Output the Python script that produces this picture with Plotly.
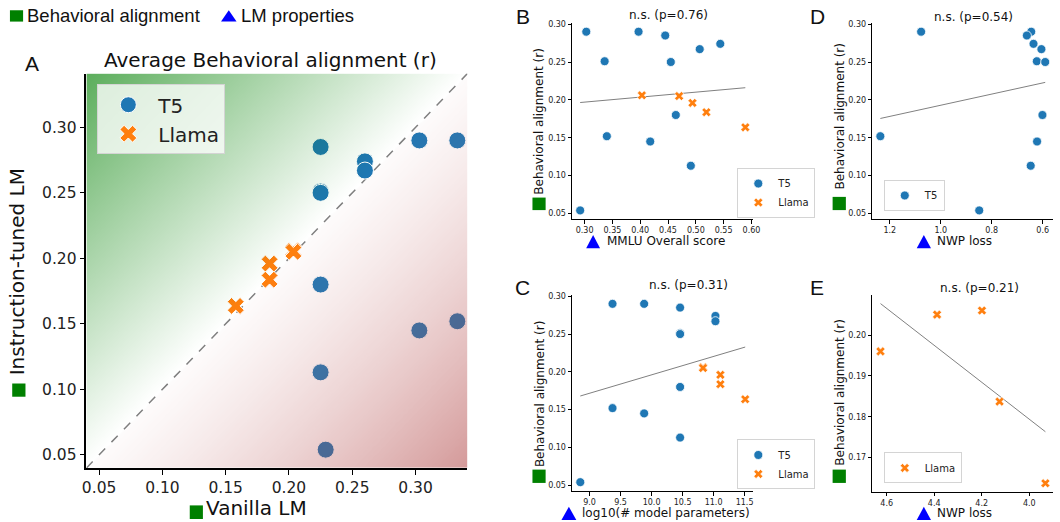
import numpy as np
import plotly.graph_objects as go

W, H = 1060, 522

# ---------------- data ----------------
# T5 models (12): instruction-tuned alignment, vanilla alignment, LM properties
t5_instruct = [0.054, 0.290, 0.290, 0.285, 0.274, 0.267, 0.251, 0.250, 0.180, 0.152, 0.145, 0.113]
t5_vanilla = [0.229, 0.303, 0.333, 0.225, 0.260, 0.260, 0.225, 0.225, 0.225, 0.333, 0.303, 0.225]
t5_mmlu = [0.292, 0.303, 0.397, 0.445, 0.544, 0.507, 0.336, 0.455, 0.464, 0.340, 0.418, 0.491]
t5_logparams = [8.85, 9.88, 9.37, 10.46, 11.03, 11.03, 10.46, 10.46, 10.46, 9.37, 9.88, 10.46]
t5_nwp = [0.849, 1.077, 0.645, 0.662, 0.636, 0.605, 0.623, 0.590, 0.601, 1.237, 0.622, 0.647]

# Llama models (5)
llama_instruct = [0.206, 0.205, 0.196, 0.1837, 0.1637]
llama_vanilla = [0.2035, 0.2035, 0.1847, 0.1847, 0.158]
llama_mmlu = [0.403, 0.470, 0.494, 0.519, 0.589]
llama_logparams = [10.83, 10.83, 11.11, 11.11, 11.51]
llama_nwp = [4.199, 4.388, 4.626, 4.125, 3.932]

p_values = {"B": 0.76, "C": 0.31, "D": 0.54, "E": 0.21}

a_ticks = [0.05, 0.10, 0.15, 0.20, 0.25, 0.30]
small_y_ticks = [0.05, 0.10, 0.15, 0.20, 0.25, 0.30]
mmlu_ticks = [0.30, 0.35, 0.40, 0.45, 0.50, 0.55, 0.60]
param_ticks = [9.0, 9.5, 10.0, 10.5, 11.0, 11.5]
t5_nwp_ticks = [1.2, 1.0, 0.8, 0.6]
llama_nwp_ticks = [4.6, 4.4, 4.2, 4.0]
e_y_ticks = [0.17, 0.18, 0.19, 0.20]

# ---------------- helpers ----------------
def px(x):
    return x / W


def py(y):
    return 1 - y / H


BLUE = "#1f77b4"
ORANGE = "#ff7f0e"
DV = "DejaVu Sans"
AR = "Liberation Sans"

A_RANGE = [0.0400, 0.3410]

fig = go.Figure()

# ---- Panel A ----
fig.add_trace(go.Scatter(x=A_RANGE, y=A_RANGE, mode="lines",
                         line=dict(color="gray", dash="dash", width=1.5),
                         xaxis="x", yaxis="y", showlegend=False, hoverinfo="skip"))
fig.add_trace(go.Scatter(x=t5_vanilla, y=t5_instruct, mode="markers", name="T5",
                         marker=dict(size=17, color=BLUE, line=dict(color="white", width=1)),
                         xaxis="x", yaxis="y", legend="legend"))
fig.add_trace(go.Scatter(x=llama_vanilla, y=llama_instruct, mode="markers", name="Llama",
                         marker=dict(symbol="x", size=15, color=ORANGE, line=dict(color="white", width=1)),
                         xaxis="x", yaxis="y", legend="legend"))

# gradient overlay (drawn on an overlaying axis so it tints the points)
gx = np.linspace(A_RANGE[0], A_RANGE[1], 150)
gy = np.linspace(A_RANGE[0], A_RANGE[1], 150)
gz = gy[:, None] - gx[None, :]
span = A_RANGE[1] - A_RANGE[0]
fig.add_trace(go.Heatmap(x=gx, y=gy, z=gz, zmin=-span, zmax=span, zsmooth="best",
                         colorscale=[[0.0, "rgba(165,42,42,0.48)"],
                                     [0.499, "rgba(200,120,120,0.03)"],
                                     [0.501, "rgba(0,128,0,0.0)"],
                                     [1.0, "rgba(0,128,0,0.64)"]],
                         showscale=False, hoverinfo="skip", xaxis="x6", yaxis="y6"))


def reg_line(xs, ys, xa, ya):
    xs = np.asarray(xs, float)
    ys = np.asarray(ys, float)
    k, b = np.polyfit(xs, ys, 1)
    xx = np.array([xs.min(), xs.max()])
    return go.Scatter(x=xx, y=k * xx + b, mode="lines", line=dict(color="gray", width=1),
                      xaxis=xa, yaxis=ya, showlegend=False, hoverinfo="skip")


def t5_pts(xs, xa, ya, leg, size=9):
    return go.Scatter(x=xs, y=t5_instruct, mode="markers", name="T5",
                      marker=dict(size=size, color=BLUE, line=dict(color="white", width=0.8)),
                      xaxis=xa, yaxis=ya, legend=leg)


def llama_pts(xs, xa, ya, leg, size=8):
    return go.Scatter(x=xs, y=llama_instruct, mode="markers", name="Llama",
                      marker=dict(symbol="x", size=size, color=ORANGE, line=dict(color="white", width=0.6)),
                      xaxis=xa, yaxis=ya, legend=leg)


# ---- Panel B ----
fig.add_trace(reg_line(t5_mmlu + llama_mmlu, t5_instruct + llama_instruct, "x2", "y2"))
fig.add_trace(t5_pts(t5_mmlu, "x2", "y2", "legend2"))
fig.add_trace(llama_pts(llama_mmlu, "x2", "y2", "legend2"))
# ---- Panel C ----
fig.add_trace(reg_line(t5_logparams + llama_logparams, t5_instruct + llama_instruct, "x3", "y3"))
fig.add_trace(t5_pts(t5_logparams, "x3", "y3", "legend3"))
fig.add_trace(llama_pts(llama_logparams, "x3", "y3", "legend3"))
# ---- Panel D ----
fig.add_trace(reg_line(t5_nwp, t5_instruct, "x4", "y4"))
fig.add_trace(t5_pts(t5_nwp, "x4", "y4", "legend4"))
# ---- Panel E ----
fig.add_trace(reg_line(llama_nwp, llama_instruct, "x5", "y5"))
fig.add_trace(llama_pts(llama_nwp, "x5", "y5", "legend5"))


def axis(domain, rng, ticks, fmt, fsize, anchor, ticklen=3.5, lw=1, standoff=None):
    d = dict(domain=domain, range=rng, tickvals=ticks, tickformat=fmt, ticks="outside",
             ticklen=ticklen, tickwidth=1, tickcolor="black", showline=True, linecolor="black",
             linewidth=lw, showgrid=False, zeroline=False, anchor=anchor,
             tickfont=dict(family=DV, size=fsize, color="#222"))
    if standoff is not None:
        d["ticklabelstandoff"] = standoff
    return d


layout = dict(
    width=W, height=H, autosize=False, margin=dict(l=0, r=0, t=0, b=0),
    paper_bgcolor="white", plot_bgcolor="rgba(0,0,0,0)",
    xaxis=axis([px(83.3), px(468.3)], A_RANGE, a_ticks, ".2f", 15.5, "y", ticklen=5, lw=1.5),
    yaxis=axis([py(467.7), py(71)], A_RANGE, a_ticks, ".2f", 15.5, "x", ticklen=5, lw=1.5),
    xaxis6=dict(overlaying="x", range=A_RANGE, visible=False, anchor="y6"),
    yaxis6=dict(overlaying="y", range=A_RANGE, visible=False, anchor="x6"),
    xaxis2=axis([px(574), px(757.3)], [0.2774, 0.6036], mmlu_ticks, ".2f", 8, "y2"),
    yaxis2=axis([py(217.6), py(19.9)], [0.0422, 0.3018], small_y_ticks, ".2f", 8, "x2"),
    xaxis3=axis([px(574), px(757.3)], [8.717, 11.643], param_ticks, ".1f", 8, "y3"),
    yaxis3=axis([py(490.9), py(293.6)], [0.0422, 0.3018], small_y_ticks, ".2f", 8, "x3"),
    xaxis4=axis([px(877.3), 1.0], [1.269, 0.5595], t5_nwp_ticks, ".1f", 8, "y4"),
    yaxis4=axis([py(217.6), py(19.9)], [0.0422, 0.3018], small_y_ticks, ".2f", 8, "x4"),
    xaxis5=axis([px(877.3), 1.0], [4.661, 3.90], llama_nwp_ticks, ".1f", 8, "y5"),
    yaxis5=axis([py(491.7), py(293.3)], [0.1616, 0.2099], e_y_ticks, ".2f", 8, "x5"),
    showlegend=True,
)


def leg(x, y, size, itemwidth=30):
    return dict(x=px(x), y=py(y), xanchor="left", yanchor="top", bgcolor="rgba(255,255,255,0.78)",
                bordercolor="#d4d4d4", borderwidth=1, font=dict(family=DV, size=size, color="#222"),
                itemwidth=itemwidth, tracegroupgap=0)


layout["legend"] = leg(94.3, 81.7, 20, itemwidth=50)
layout["legend2"] = leg(741, 166, 10)
layout["legend3"] = leg(741, 439, 10)
layout["legend4"] = leg(889, 178, 10)
layout["legend5"] = leg(889, 452, 10)

fig.update_layout(**layout)

# ---------------- annotations ----------------
ann = []


def text(t, x, y, size, family=DV, xanchor="center", yanchor="middle", angle=0):
    ann.append(dict(text=t, x=px(x), y=py(y), xref="paper", yref="paper", showarrow=False,
                    xanchor=xanchor, yanchor=yanchor, textangle=angle,
                    font=dict(family=family, size=size, color="#111")))


text("Behavioral alignment", 21, 13, 18.5, family=AR, xanchor="left")
text("LM properties", 237, 13, 18.5, family=AR, xanchor="left")
for lab, (x, y) in {"A": (28.5, 60.5), "B": (524, 14), "C": (524, 286), "D": (822.5, 14), "E": (821.5, 286)}.items():
    text(lab, x, y, 21, family=AR)

text("Average Behavioral alignment (r)", 269, 57, 20)
text("Instruction-tuned LM", 14, 270, 20, angle=-90)
text("Vanilla LM", 202, 521.5, 20, xanchor="left", yanchor="bottom")

text("n.s. (p=%.2f)" % p_values["B"], 671, 12, 12)
text("n.s. (p=%.2f)" % p_values["C"], 692, 284, 12)
text("n.s. (p=%.2f)" % p_values["D"], 979.5, 14, 12)
text("n.s. (p=%.2f)" % p_values["E"], 985.7, 287, 12)

for (x, y) in [(541, 119), (541.5, 392.5), (845, 114), (845, 391.7)]:
    text("Behavioral alignment (r)", x, y, 12, angle=-90)

text("MMLU Overall score", 607, 239.3, 12, xanchor="left")
text("log10(# model parameters)", 582, 513.3, 12, xanchor="left")
text("NWP loss", 940.5, 239.3, 12, xanchor="left")
text("NWP loss", 940.5, 513.3, 12, xanchor="left")

# ---------------- shapes: green squares & blue triangles ----------------
shapes = []
for (x0, x1, y0, y1) in [(6, 19.3, 7.3, 18.7), (8.3, 21.7, 382.7, 396), (187.7, 201, 505.3, 519),
                         (534, 547.3, 195.7, 208.3), (534, 547.3, 469.3, 482.7),
                         (837.3, 850.7, 195, 208.3), (837.3, 850.7, 469.3, 482.7)]:
    shapes.append(dict(type="rect", xref="paper", yref="paper", x0=px(x0), x1=px(x1), y0=py(y1), y1=py(y0),
                       fillcolor="green", line=dict(width=0)))
for (x0, x1, y0, y1) in [(219.3, 235, 7.3, 18.7), (588.3, 602.3, 233.3, 246.7), (563.3, 578.3, 506.7, 520),
                         (922.3, 936.7, 233.3, 246.7), (922.3, 936.7, 506.7, 520)]:
    path = "M %f,%f L %f,%f L %f,%f Z" % (px(x0), py(y1), px(x1), py(y1), px((x0 + x1) / 2), py(y0))
    shapes.append(dict(type="path", xref="paper", yref="paper", path=path, fillcolor="blue",
                       line=dict(width=0)))

fig.update_layout(annotations=ann, shapes=shapes)
fig.write_html("out.html")
